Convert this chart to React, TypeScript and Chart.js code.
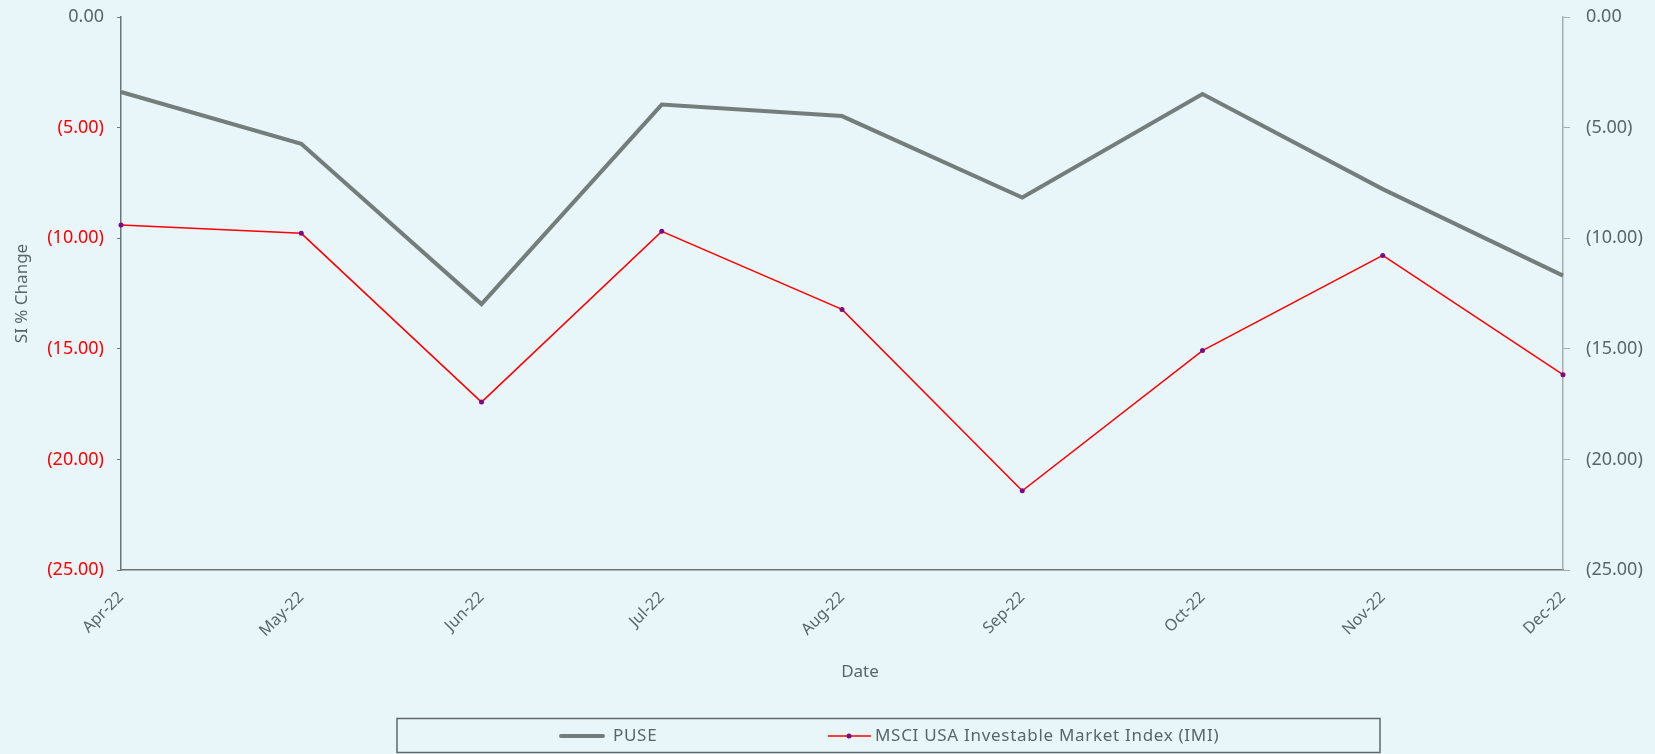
import React, { useEffect, useRef } from "react";
import { Chart, registerables } from "chart.js";

Chart.register(...registerables);

const categories = ["Apr-22", "May-22", "Jun-22", "Jul-22", "Aug-22", "Sep-22", "Oct-22", "Nov-22", "Dec-22"];
const puseValues = [-3.39, -5.73, -12.98, -3.96, -4.48, -8.16, -3.48, -7.78, -11.69];
const msciValues = [-9.4, -9.78, -17.41, -9.69, -13.22, -21.42, -15.08, -10.78, -16.17];
const yMin = -25;
const yMax = 0;
const yStep = 5;
const xTitle = "Date";
const yTitle = "SI % Change";

const BG = "#e8f6fa";
const GRAY_TEXT = "#5b6566";
const FONT = "'Noto Sans', 'Open Sans', sans-serif";

const fmt = (v: number) => (v === 0 ? "0.00" : v < 0 ? `(${Math.abs(v).toFixed(2)})` : v.toFixed(2));

const bgPlugin = {
  id: "bgFill",
  beforeDraw(chart: any) {
    const { ctx, width, height } = chart;
    ctx.save();
    ctx.fillStyle = BG;
    ctx.fillRect(0, 0, width, height);
    ctx.restore();
  },
};

const legendPlugin = {
  id: "boxLegend",
  afterDraw(chart: any) {
    const { ctx, chartArea } = chart;
    const ds = chart.data.datasets;
    ctx.save();
    // x axis title
    ctx.font = `17px ${FONT}`;
    ctx.fillStyle = GRAY_TEXT;
    ctx.textBaseline = "middle";
    ctx.textAlign = "center";
    ctx.fillText(xTitle, (chartArea.left + chartArea.right) / 2 + 18, 672);

    ctx.strokeStyle = "#5f6868";
    ctx.lineWidth = 1.5;
    ctx.strokeRect(397, 718.5, 983, 34);
    const y = 736;
    // item 1
    ctx.strokeStyle = ds[0].borderColor;
    ctx.lineWidth = ds[0].borderWidth;
    ctx.lineCap = "round";
    ctx.beginPath();
    ctx.moveTo(561, y);
    ctx.lineTo(603, y);
    ctx.stroke();
    ctx.font = `17px ${FONT}`;
    (ctx as any).letterSpacing = "0.7px";
    ctx.fillStyle = GRAY_TEXT;
    ctx.textAlign = "left";
    ctx.fillText(ds[0].label, 613, y);
    // item 2
    ctx.strokeStyle = ds[1].borderColor;
    ctx.lineWidth = ds[1].borderWidth;
    ctx.lineCap = "butt";
    ctx.beginPath();
    ctx.moveTo(828, y);
    ctx.lineTo(871, y);
    ctx.stroke();
    ctx.fillStyle = ds[1].pointBackgroundColor;
    ctx.beginPath();
    ctx.arc(849, y, 2.5, 0, Math.PI * 2);
    ctx.fill();
    ctx.fillStyle = GRAY_TEXT;
    ctx.fillText(ds[1].label, 875, y);
    (ctx as any).letterSpacing = "0px";
    ctx.restore();
  },
};

export default function App() {
  const ref = useRef<HTMLCanvasElement | null>(null);

  useEffect(() => {
    if (!ref.current) return;
    const chart = new Chart(ref.current, {
      type: "line",
      data: {
        labels: categories,
        datasets: [
          {
            label: "PUSE",
            data: puseValues,
            borderColor: "#737d7c",
            backgroundColor: "#737d7c",
            borderWidth: 4,
            pointRadius: 0,
            tension: 0,
            yAxisID: "y",
          },
          {
            label: "MSCI USA Investable Market Index (IMI)",
            data: msciValues,
            borderColor: "#ff0000",
            backgroundColor: "#ff0000",
            borderWidth: 1.5,
            pointRadius: 2.5,
            pointBackgroundColor: "#7a0a88",
            pointBorderColor: "#7a0a88",
            pointBorderWidth: 0,
            tension: 0,
            yAxisID: "y",
          },
        ],
      },
      options: {
        responsive: false,
        animation: false,
        layout: { padding: { top: 17, left: 8, right: 0, bottom: 70 } },
        plugins: {
          legend: { display: false },
          tooltip: { enabled: false },
        },
        scales: {
          x: {
            type: "category",
            offset: false,
            grid: { display: false, drawTicks: false },
            border: { display: true, color: "#6d7575", width: 1.5 },
            ticks: {
              color: GRAY_TEXT,
              font: { family: FONT, size: 16 },
              maxRotation: 45,
              minRotation: 45,
              padding: 18,
              autoSkip: false,
            },
            title: { display: false },
            afterFit(scale: any) {
              scale.height = 114;
            },
          },
          y: {
            position: "left",
            min: yMin,
            max: yMax,
            grid: { display: true, drawOnChartArea: false, drawTicks: true, tickLength: 4, color: "#6d7575" },
            border: { display: true, color: "#6d7575", width: 1.5 },
            ticks: {
              stepSize: yStep,
              callback: (v: any) => fmt(Number(v)),
              color: (c: any) => (c.tick && c.tick.value < 0 ? "#ff0000" : GRAY_TEXT),
              font: { family: FONT, size: 18 },
              padding: 13,
            },
            title: {
              display: true,
              text: yTitle,
              color: GRAY_TEXT,
              font: { family: FONT, size: 17 },
            },
            afterFit(scale: any) {
              scale.width = 113;
              scale.paddingTop = 0;
              scale.paddingBottom = 0;
            },
          },
          y1: {
            position: "right",
            min: yMin,
            max: yMax,
            grid: { display: true, drawOnChartArea: false, drawTicks: true, tickLength: 7, color: "#a5adad" },
            border: { display: true, color: "#a5adad", width: 1.5 },
            ticks: {
              stepSize: yStep,
              callback: (v: any) => fmt(Number(v)),
              color: GRAY_TEXT,
              font: { family: FONT, size: 18 },
              padding: 16,
            },
            afterFit(scale: any) {
              scale.width = 92;
              scale.paddingTop = 0;
              scale.paddingBottom = 0;
            },
          },
        },
      },
      plugins: [bgPlugin, legendPlugin],
    });
    return () => chart.destroy();
  }, []);

  return (
    <div style={{ position: "fixed", left: 0, top: 0, width: 1655, height: 754, background: BG }}>
      <canvas ref={ref} width={1655} height={754} style={{ display: "block" }} />
    </div>
  );
}
